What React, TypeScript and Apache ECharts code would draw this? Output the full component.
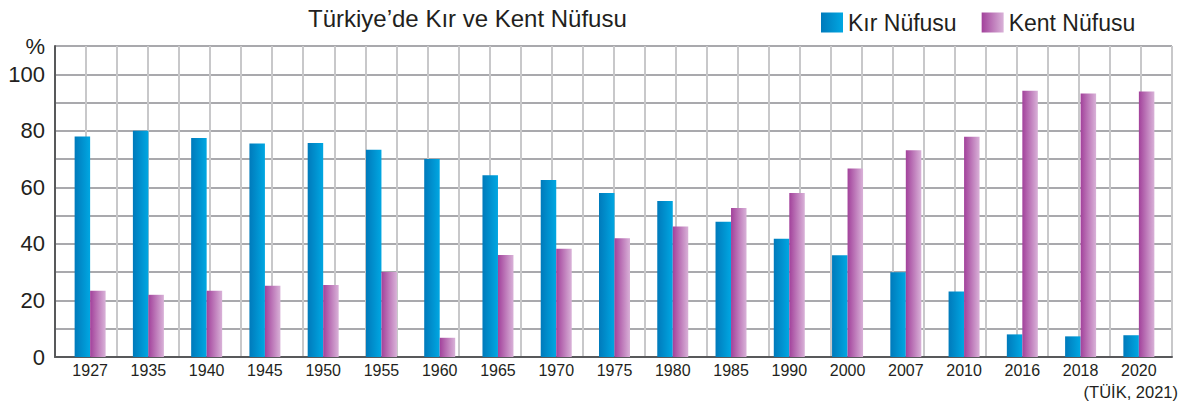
import React, { useEffect, useRef } from "react";
import * as echarts from "echarts";

const years = ["1927", "1935", "1940", "1945", "1950", "1955", "1960", "1965", "1970", "1975", "1980", "1985", "1990", "2000", "2007", "2010", "2016", "2018", "2020"];
const rural = [78, 80, 77.5, 75.5, 75.7, 73.3, 70, 64.3, 62.6, 58, 55.2, 47.8, 41.8, 36, 30, 23.2, 8, 7.3, 7.7];
const urban = [23.4, 22, 23.4, 25.2, 25.5, 30.1, 6.8, 36.1, 38.3, 42, 46.2, 52.7, 58, 66.7, 73.1, 77.9, 94.2, 93.2, 93.9];
const yLabels = ["0", "", "20", "", "40", "", "60", "", "80", "", "100", "%"];
const seriesNames = ["Kır Nüfusu", "Kent Nüfusu"];
const titleText = "Türkiye’de Kır ve Kent Nüfusu";
const sourceText = "(TÜİK, 2021)";

const FONT = "'Liberation Sans', Arial, Helvetica, sans-serif";

export default function App() {
  const ref = useRef<HTMLDivElement>(null);
  useEffect(() => {
    document.body.style.margin = "0";
    const chart = echarts.init(ref.current!, null, { renderer: "svg" });
    const blue = new echarts.graphic.LinearGradient(0, 0, 1, 0, [
      { offset: 0, color: "#007abb" },
      { offset: 1, color: "#00a7e2" },
    ]);
    const pink = new echarts.graphic.LinearGradient(0, 0, 1, 0, [
      { offset: 0, color: "#a2419b" },
      { offset: 1, color: "#d9b2d8" },
    ]);
    chart.setOption({
      animation: false,
      textStyle: { fontFamily: FONT },
      legend: {
        left: 816,
        top: 6,
        itemWidth: 22,
        itemHeight: 20,
        itemGap: 25,
        icon: "rect",
        data: seriesNames,
        textStyle: { fontSize: 23, color: "#231f20", fontFamily: FONT },
      },
      graphic: [
        {
          type: "text",
          left: 308,
          top: 6,
          style: { text: titleText, fontSize: 24, fill: "#231f20", fontFamily: FONT },
        },
        {
          type: "text",
          right: 9,
          top: 383,
          style: { text: sourceText, fontSize: 16.5, fill: "#231f20", fontFamily: FONT },
        },
      ],
      grid: [
        { left: 55, right: 15, top: 46, bottom: 49 },
        { left: 61, right: 19, top: 46, bottom: 49 },
      ],
      xAxis: [
        {
          type: "value",
          gridIndex: 0,
          min: 0,
          max: 36,
          interval: 1,
          axisLabel: { show: false },
          axisTick: { show: false },
          axisLine: { show: true, lineStyle: { color: "#58595b", width: 2 } },
          splitLine: { show: true, lineStyle: { color: "#c8c8ca", width: 2 } },
        },
        {
          type: "category",
          gridIndex: 1,
          data: years,
          axisLine: { show: false },
          axisTick: { show: false },
          splitLine: { show: false },
          axisLabel: { fontSize: 16, color: "#231f20", margin: 5, fontFamily: FONT },
        },
      ],
      yAxis: [
        {
          type: "value",
          gridIndex: 0,
          min: 0,
          max: 110,
          interval: 10,
          axisLine: { show: true, lineStyle: { color: "#58595b", width: 2 } },
          axisTick: { show: false },
          splitLine: { show: true, lineStyle: { color: "#a9a9ad", width: 2 } },
          axisLabel: {
            fontSize: 22,
            color: "#231f20",
            margin: 10,
            fontFamily: FONT,
            formatter: (_v: number, i: number) => yLabels[i] ?? "",
          },
        },
        { type: "value", gridIndex: 1, min: 0, max: 110, show: false },
      ],
      series: [
        {
          name: seriesNames[0],
          type: "bar",
          xAxisIndex: 1,
          yAxisIndex: 1,
          data: rural,
          barWidth: 15.5,
          barGap: "0%",
          itemStyle: { color: blue },
        },
        {
          name: seriesNames[1],
          type: "bar",
          xAxisIndex: 1,
          yAxisIndex: 1,
          data: urban,
          barWidth: 15.5,
          barGap: "0%",
          itemStyle: { color: pink },
        },
      ],
    });
    return () => chart.dispose();
  }, []);
  return (
    <div
      ref={ref}
      style={{ position: "absolute", left: 0, top: 0, width: 1187, height: 406 }}
    />
  );
}
